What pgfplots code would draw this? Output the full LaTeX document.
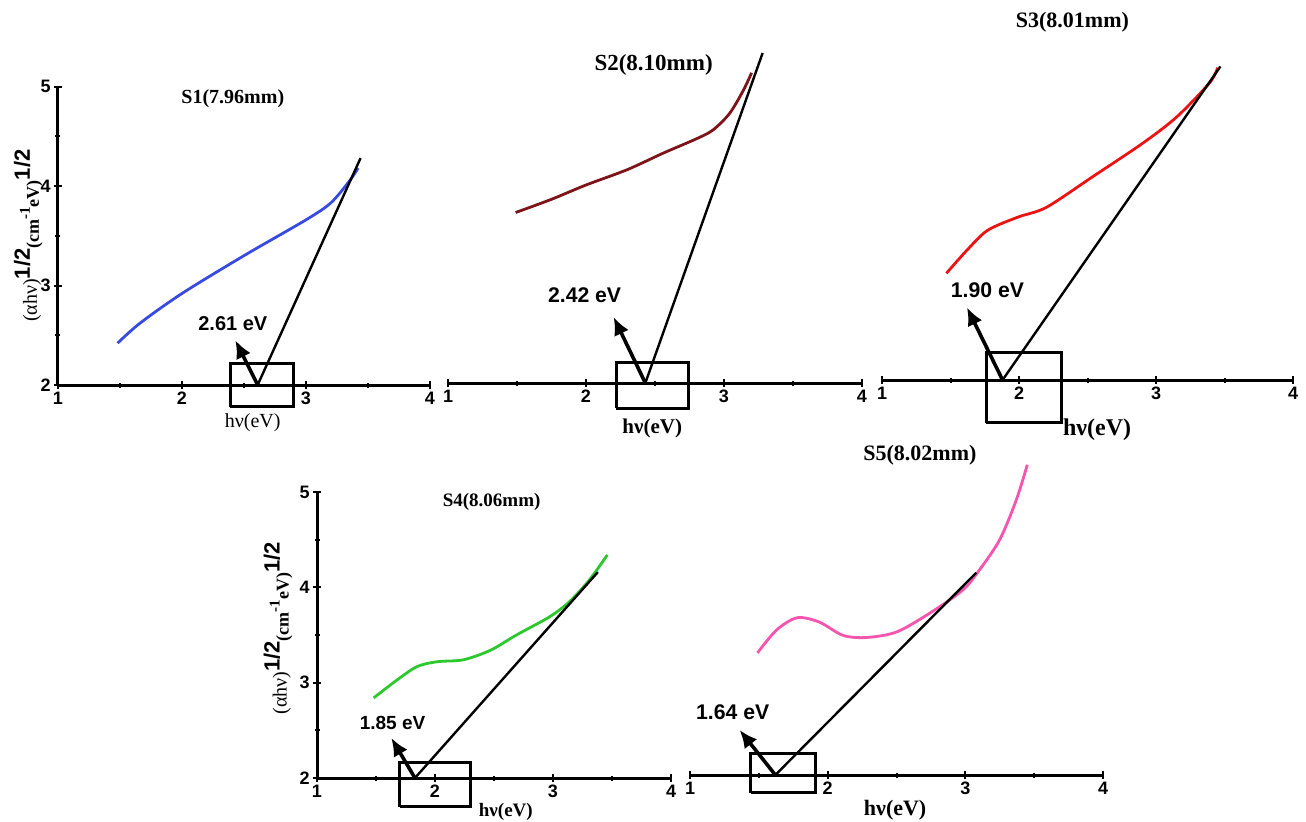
\documentclass[border=0pt]{standalone}
\usepackage{pgfplots}
\pgfplotsset{compat=1.18}
\usepackage{fontspec}
\setmainfont{Liberation Serif}
\setsansfont{Liberation Sans}
\usetikzlibrary{arrows.meta}

\definecolor{c1}{RGB}{55,75,225}
\definecolor{c2}{RGB}{125,20,25}
\definecolor{c3}{RGB}{235,20,20}
\definecolor{c4}{RGB}{45,200,45}
\definecolor{c5}{RGB}{245,85,175}

\pgfplotsset{
 panel/.style={scale only axis, xmin=1,xmax=4,ymin=2,ymax=5, clip=false, anchor=south west,
   xtick={1,2,3,4}, minor x tick num=1,
   tick align=outside, major tick length=4pt, minor tick length=2.5pt,
   every tick/.style={black, line width=1pt},
   ticklabel style={font=\sffamily\bfseries\fontsize{9}{9}\selectfont, inner sep=1.5pt},
   /pgf/number format/assume math mode=true,
 },
 withy/.style={axis x line=bottom, axis y line=left, ytick={2,3,4,5}, minor y tick num=1,
   x axis line style={-, line width=1.5pt}, y axis line style={-, line width=1.5pt}},
 noy/.style={axis x line=bottom, axis y line=none,
   x axis line style={-, line width=1.5pt}},
 curve/.style={line width=1.4pt, smooth, no marks},
 tang/.style={black, line width=1.2pt, no marks},
 arr/.style={black, line width=1.8pt, no marks, -{Latex[length=9pt,width=8pt]}},
 boxx/.style={black, line width=1.5pt, no marks, line join=miter},
}

\newcommand{\ylab}{{\fontsize{10}{10}\selectfont(αhν)}\raisebox{3.5pt}{\sffamily\bfseries\fontsize{11}{11}\selectfont 1/2}\raisebox{-1pt}{\bfseries\fontsize{9}{9}\selectfont(cm}\raisebox{3.5pt}{\bfseries\fontsize{7.5}{7.5}\selectfont -1}\raisebox{-1pt}{\bfseries\fontsize{9}{9}\selectfont eV)}\raisebox{3.5pt}{\sffamily\bfseries\fontsize{11}{11}\selectfont 1/2}}

\begin{document}
\begin{tikzpicture}
\path[use as bounding box] (0,0) rectangle (653pt,410.5pt);

% ---------- S1 ----------
\begin{axis}[panel, withy, at={(29pt,218pt)}, width=186pt, height=149.25pt]
\addplot[curve, c1] coordinates {(1.48,2.42)(1.66,2.62)(2.0,2.92)(2.5,3.3)(3.0,3.66)(3.2,3.83)(3.35,4.05)(3.42,4.18)};
\addplot[tang] coordinates {(2.61,2.0)(3.44,4.28)};
\addplot[arr] coordinates {(2.61,2.0)(2.43,2.45)};
\addplot[boxx] coordinates {(2.39,1.78)(2.9,1.78)(2.9,2.22)(2.39,2.22)(2.39,1.78)};
\node[font=\sffamily\bfseries\fontsize{10}{10}\selectfont] at (axis cs:2.41,2.62) {2.61 eV};
\node[font=\bfseries\fontsize{10}{10}\selectfont] at (axis cs:2.41,4.88) {S1(7.96mm)};
\node[font=\fontsize{10}{10}\selectfont] at (axis cs:2.57,1.62) {hν(eV)};
\node[rotate=90] at (axis cs:0.76,3.5) {\ylab};
\end{axis}

% ---------- S2 ----------
\begin{axis}[panel, noy, at={(224pt,219pt)}, width=207pt, height=165pt]
\addplot[curve, c2] coordinates {(1.49,3.55)(1.75,3.67)(2.0,3.8)(2.3,3.94)(2.56,4.09)(2.8,4.22)(2.92,4.3)(3.04,4.45)(3.14,4.66)(3.2,4.82)};
\addplot[tang] coordinates {(2.43,2.0)(3.28,5.0)};
\addplot[arr] coordinates {(2.43,2.0)(2.2,2.6)};
\addplot[boxx] coordinates {(2.22,1.77)(2.74,1.77)(2.74,2.19)(2.22,2.19)(2.22,1.77)};
\node[font=\sffamily\bfseries\fontsize{10.6}{10.6}\selectfont] at (axis cs:1.99,2.8) {2.42 eV};
\node[font=\bfseries\fontsize{11.5}{11.5}\selectfont] at (axis cs:2.49,4.89) {S2(8.10mm)};
\node[font=\bfseries\fontsize{10.5}{10.5}\selectfont] at (axis cs:2.48,1.59) {hν(eV)};
\end{axis}

% ---------- S3 ----------
\begin{axis}[panel, noy, at={(441pt,220.5pt)}, width=205.5pt, height=165pt]
\addplot[curve, c3] coordinates {(1.47,2.97)(1.62,3.18)(1.77,3.36)(1.99,3.48)(2.2,3.57)(2.54,3.85)(2.9,4.15)(3.15,4.39)(3.39,4.7)(3.45,4.84)};
\addplot[tang] coordinates {(1.88,2.0)(3.47,4.85)};
\addplot[arr] coordinates {(1.88,2.0)(1.62,2.66)};
\addplot[boxx] coordinates {(1.76,1.61)(2.31,1.61)(2.31,2.25)(1.76,2.25)(1.76,1.61)};
\node[font=\sffamily\bfseries\fontsize{10.6}{10.6}\selectfont] at (axis cs:1.77,2.82) {1.90 eV};
\node[font=\bfseries\fontsize{11}{11}\selectfont] at (axis cs:2.39,5.25) {S3(8.01mm)};
\node[font=\bfseries\fontsize{12}{12}\selectfont] at (axis cs:2.57,1.55) {hν(eV)};
\end{axis}

% ---------- S4 ----------
\begin{axis}[panel, withy, at={(158.5pt,21.5pt)}, width=177pt, height=143pt]
\addplot[curve, c4] coordinates {(1.48,2.84)(1.68,3.03)(1.85,3.17)(2.02,3.22)(2.24,3.24)(2.47,3.34)(2.69,3.5)(2.97,3.69)(3.14,3.85)(3.31,4.08)(3.46,4.34)};
\addplot[tang] coordinates {(1.83,2.0)(3.38,4.16)};
\addplot[arr] coordinates {(1.83,2.0)(1.63,2.42)};
\addplot[boxx] coordinates {(1.7,1.70)(2.3,1.70)(2.3,2.16)(1.7,2.16)(1.7,1.70)};
\node[font=\sffamily\bfseries\fontsize{9.5}{9.5}\selectfont] at (axis cs:1.64,2.58) {1.85 eV};
\node[font=\bfseries\fontsize{9.5}{9.5}\selectfont] at (axis cs:2.48,4.9) {S4(8.06mm)};
\node[font=\bfseries\fontsize{9.5}{9.5}\selectfont] at (axis cs:2.6,1.64) {hν(eV)};
\node[rotate=90] at (axis cs:0.67,3.57) {\ylab};
\end{axis}

% ---------- S5 ----------
\begin{axis}[panel, noy, at={(345pt,23pt)}, width=206.5pt, height=165pt]
\addplot[curve, c5] coordinates {(1.49,3.11)(1.63,3.32)(1.78,3.43)(1.94,3.39)(2.11,3.27)(2.28,3.25)(2.5,3.3)(2.74,3.47)(2.98,3.68)(3.1,3.86)(3.25,4.14)(3.37,4.5)(3.45,4.82)};
\addplot[tang] coordinates {(1.62,2.0)(3.08,3.84)};
\addplot[arr] coordinates {(1.62,2.0)(1.36,2.41)};
\addplot[boxx] coordinates {(1.44,1.84)(1.91,1.84)(1.91,2.2)(1.44,2.2)(1.44,1.84)};
\node[font=\sffamily\bfseries\fontsize{10.6}{10.6}\selectfont] at (axis cs:1.31,2.57) {1.64 eV};
\node[font=\bfseries\fontsize{11}{11}\selectfont] at (axis cs:2.67,4.91) {S5(8.02mm)};
\node[font=\bfseries\fontsize{11}{11}\selectfont] at (axis cs:2.49,1.68) {hν(eV)};
\end{axis}
\end{tikzpicture}
\end{document}
